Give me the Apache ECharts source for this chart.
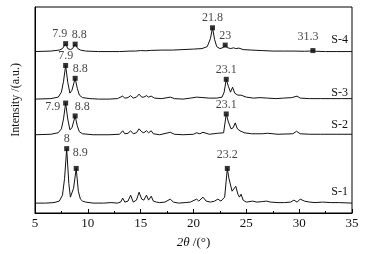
<!DOCTYPE html>
<html>
<head>
<meta charset="utf-8">
<script src="https://cdn.jsdelivr.net/npm/echarts@6/dist/echarts.min.js"></script>
<style>
html,body{margin:0;padding:0;background:#fff;}
#c1{width:371px;height:254px;}
</style>
</head>
<body>
<div id="c1"></div>
<script>
// XRD patterns, 2theta vs stacked intensity (a.u.)
var xTicks = [5, 10, 15, 20, 25, 30, 35];
var names = ['S-1', 'S-2', 'S-3', 'S-4'];

var s1 = [[5,10],[6,10],[6.8,10.5],[7.3,12],[7.6,18],[7.8,35],[8.0,65],[8.2,30],[8.35,16],[8.5,14],[8.65,25],[8.9,45],[9.1,22],[9.3,14],[9.5,12],[9.8,11],[10.5,10],[11.5,10],[12.2,10.5],[12.8,10],[13.1,11],[13.3,15],[13.5,11],[13.8,12],[14.05,18],[14.3,11],[14.6,13],[14.85,21],[15.1,14],[15.3,13],[15.55,18],[15.75,13],[16.0,17],[16.2,12],[16.5,11],[16.8,10.5],[17.3,11],[17.8,14],[18.1,11],[18.6,10],[19.2,10.5],[19.7,11],[20.3,14],[20.5,12],[20.9,16],[21.2,12],[21.6,11],[22.0,12],[22.3,14],[22.6,12],[22.95,16],[23.2,45],[23.35,35],[23.5,33],[23.65,22],[23.8,22],[24.0,27],[24.2,19],[24.35,16],[24.5,19],[24.7,13],[25.0,11],[25.6,12],[26.0,11],[26.5,11.5],[26.9,12],[27.3,11],[28,10.5],[28.6,10.5],[29.2,11],[29.5,13],[29.8,11],[30.1,14],[30.5,12],[31,11],[31.5,10.5],[32.2,11],[33,10.5],[33.8,10.5],[35,10]];
var s2 = [[5,79],[6.5,79.5],[7.2,81],[7.5,85],[7.7,95],[7.9,111],[8.1,95],[8.3,84],[8.5,86],[8.8,98],[9.0,88],[9.2,82],[9.5,80],[10.5,79],[12,79],[13.0,79.5],[13.3,83],[13.5,80],[13.8,80.5],[14.05,83],[14.3,80],[14.6,81],[14.85,85],[15.1,82],[15.3,81],[15.55,83],[15.75,81],[16.0,83],[16.2,80],[16.8,79],[17.8,81.5],[18.2,79.5],[19,79],[20,79.5],[20.3,81],[20.6,80],[20.9,81.5],[21.5,79.5],[22.3,80.5],[22.85,81],[23.1,100],[23.3,92],[23.55,85],[23.75,86],[23.95,91],[24.15,85],[24.4,83],[24.8,81],[25.5,80],[26.5,80],[27,80.5],[28,79.5],[29.4,80],[29.75,82.5],[30.1,80],[31,79.5],[32,79.5],[33.5,79.5],[35,79.5]];
var s3 = [[5,115],[6.5,115.5],[7.2,117],[7.5,122],[7.7,133],[7.9,149],[8.1,132],[8.3,121],[8.5,124],[8.8,136],[9.0,126],[9.2,119],[9.5,116.5],[10.2,115.5],[11,115],[12,115],[12.8,115.5],[13.3,118],[13.5,116],[13.8,116.5],[14.05,118.5],[14.3,116],[14.6,117],[14.85,120],[15.1,117],[15.3,117],[15.55,118.5],[15.75,117],[16.0,118],[16.3,116],[17,115.5],[17.8,117],[18.2,115.5],[19,115],[19.7,116],[20.3,117],[20.9,116.5],[21.5,116],[22.2,116],[22.7,117],[22.9,122],[23.1,135],[23.3,128],[23.5,122],[23.7,127],[23.9,121],[24.2,119],[24.5,119],[25,117],[25.7,116],[26.3,116.5],[27,116],[27.8,115.5],[28.5,116],[29.3,116.5],[29.8,118],[30.1,116],[31,115.5],[32,115.5],[33,115.5],[34,115.5],[35,115.5]];
var s4 = [[5,163],[6.5,163.5],[7.3,164.5],[7.6,166],[7.9,171],[8.1,166],[8.35,165],[8.55,166],[8.8,170.5],[9.05,166],[9.3,164.5],[9.8,163.5],[11,163],[13,163],[14,163.5],[14.5,163.5],[15,164],[15.5,163.8],[16,164.2],[17,164.5],[18,164.5],[19,165],[20,165.5],[20.8,166],[21.3,168],[21.6,176],[21.8,187],[22.0,175],[22.2,168],[22.5,166],[22.8,167],[23.0,169.5],[23.2,167],[23.5,166],[23.8,166.8],[24.0,166],[24.3,166.5],[24.7,165],[25.5,164.5],[26.5,164],[27.5,163.5],[28.5,163.5],[29.5,163.5],[30.5,163.3],[31.0,163.5],[31.3,164],[31.6,163.3],[32.5,163],[33.5,163],[35,163]];

// marked peaks [2theta, intensity]
var p1 = [[8, 65], [8.9, 45], [23.2, 45]];
var p2 = [[7.9, 111], [8.8, 98], [23.1, 100]];
var p3 = [[7.9, 149], [8.8, 136], [23.1, 135]];
var p4 = [[7.9, 171], [8.8, 170.5], [21.8, 187], [23, 169.5], [31.3, 164]];

var font = "'Liberation Serif','Times New Roman',serif";
var traces = [s1, s2, s3, s4];
var peaks = [p1, p2, p3, p4];
// label placement per peak (style only)
var lblOff = [
  [[0, 0], [4, -6], [0, -4]],
  [['left', -1, 4], [7, 0], [0, 0]],
  [[0, 0], [5, 0], [0, 0]],
  [[-6, 0], [4, 0], [0, 0], [0, 0], [-5, -4]]
];
var endOff = [[-12, -11], [-12, -9], [-12, -6], [-12, -12]];

var series = [];
traces.forEach(function (d, i) {
  series.push({
    name: names[i], type: 'line', data: d, symbol: 'none', silent: true,
    lineStyle: {color: '#111', width: 1},
    endLabel: {show: true, formatter: '{a}', align: 'right', offset: endOff[i],
      fontFamily: font, fontSize: 12, color: '#111'}
  });
  series.push({
    type: 'scatter', symbol: 'rect', symbolSize: 5, silent: true,
    itemStyle: {color: '#000'},
    data: peaks[i].map(function (p, j) {
      var o = lblOff[i][j];
      var lab = o[0] === 'left'
        ? {position: 'left', distance: 2, offset: [o[1], o[2]]}
        : {position: 'top', distance: 1, offset: o};
      return {value: p, label: lab};
    }),
    label: {show: true, fontFamily: font, fontSize: 12, color: '#111',
      formatter: function (pr) { return String(pr.value[0]); }}
  });
});

var chart = echarts.init(document.getElementById('c1'));
chart.setOption({
  animation: false,
  backgroundColor: '#fff',
  grid: {left: 35, right: 19, top: 7, bottom: 39, show: true, borderColor: '#000', borderWidth: 1},
  xAxis: {
    type: 'value', min: xTicks[0], max: xTicks[xTicks.length - 1], interval: 5,
    name: '{i|2θ} /(°)', nameLocation: 'middle', nameGap: 23,
    nameTextStyle: {fontFamily: font, fontSize: 13, color: '#111',
      rich: {i: {fontFamily: font, fontSize: 13, fontStyle: 'italic', color: '#111'}}},
    axisLine: {lineStyle: {color: '#000', width: 1}},
    axisTick: {inside: true, length: 4, lineStyle: {color: '#000'}},
    minorTick: {show: true, splitNumber: 2, length: 2, lineStyle: {color: '#000'}},
    axisLabel: {fontFamily: font, fontSize: 13, color: '#111', margin: 4},
    splitLine: {show: false}
  },
  yAxis: {
    type: 'value', min: 0, max: 208,
    axisLine: {show: true, lineStyle: {color: '#000'}},
    axisTick: {show: false}, axisLabel: {show: false}, splitLine: {show: false}
  },
  graphic: [{
    type: 'text', left: 10, top: 63, rotation: Math.PI / 2,
    style: {text: 'Intensity /(a.u.)', font: '12px ' + font, fill: '#111'}
  }],
  series: series
});
</script>
</body>
</html>
